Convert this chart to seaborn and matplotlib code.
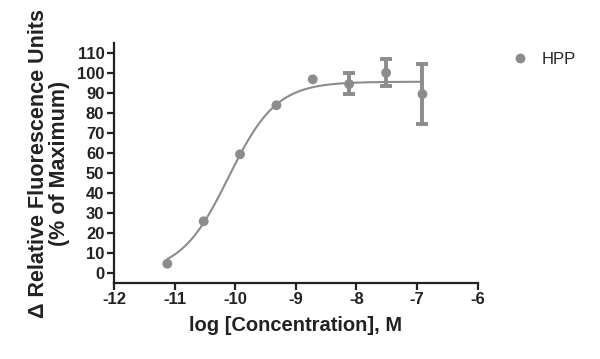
import numpy as np
import pandas as pd
import matplotlib
matplotlib.use("Agg")
import matplotlib.pyplot as plt
import seaborn as sns

# Data
log_conc = [-11.12, -10.52, -9.92, -9.32, -8.72, -8.12, -7.51, -6.91]
response = [4.5, 25.8, 59.4, 84.0, 97.0, 94.6, 100.3, 89.6]
err_low = [0, 0, 0, 0, 0, 5.2, 6.5, 15.2]
err_high = [0, 0, 0, 0, 0, 5.4, 7.0, 15.2]

# 4-parameter logistic fit parameters
fit_bottom = 0.0
fit_top = 95.8
fit_logec50 = -10.11
fit_hill = 1.1

x_ticks = [-12, -11, -10, -9, -8, -7, -6]
y_ticks = [0, 10, 20, 30, 40, 50, 60, 70, 80, 90, 100, 110]

sns.set_theme(style="ticks")
plt.rcParams['font.family'] = ['Liberation Sans', 'DejaVu Sans']

gray = "#8c8c8c"
dark = "#222222"
df = pd.DataFrame({"x": log_conc, "y": response, "series": "HPP"})

fig = plt.figure(figsize=(6.0, 3.59), dpi=100)
ax = fig.add_axes([0.19, 0.2125, 0.606, 0.6665])

xs = np.linspace(min(log_conc), max(log_conc), 300)
ys = fit_bottom + (fit_top - fit_bottom) / (1 + 10 ** ((fit_logec50 - xs) * fit_hill))
sns.lineplot(x=xs, y=ys, ax=ax, color=gray, linewidth=1.5, zorder=2)

eb = [i for i in range(len(log_conc)) if err_low[i] > 0 or err_high[i] > 0]
ax.errorbar([log_conc[i] for i in eb], [response[i] for i in eb],
            yerr=[[err_low[i] for i in eb], [err_high[i] for i in eb]], fmt="none",
            ecolor=gray, elinewidth=2.8, capsize=4.3, capthick=2.8, zorder=3)
sns.scatterplot(data=df, x="x", y="y", hue="series", palette=[gray], s=50,
                edgecolor="none", ax=ax, zorder=4)

ax.set_xlim(-12, -6)
ax.set_ylim(-5, 115)
ax.set_xticks(x_ticks)
ax.set_yticks(y_ticks)
ax.set_xticklabels([str(t) for t in x_ticks], fontsize=12, fontweight="bold")
ax.set_yticklabels([str(t) for t in y_ticks], fontsize=12, fontweight="bold")
ax.tick_params(axis="both", direction="out", length=5, width=1.6, color=dark,
               pad=2, labelcolor=dark)
for s in ["left", "bottom"]:
    ax.spines[s].set_linewidth(1.6)
    ax.spines[s].set_color(dark)
sns.despine(ax=ax)

ax.set_xlabel("log [Concentration], M", fontsize=14.5, fontweight="bold",
              color=dark, labelpad=6)
ax.set_ylabel("\u0394 Relative Fluorescence Units\n(% of Maximum)", fontsize=15.5,
              fontweight="bold", color=dark, labelpad=5, linespacing=1.0)

handles, labels = ax.get_legend_handles_labels()
ax.legend(handles=handles, labels=labels, loc="upper left",
          bbox_to_anchor=(0.8145, 0.898), bbox_transform=fig.transFigure,
          frameon=False, fontsize=12, handletextpad=0.3, markerscale=1.0)

fig.savefig("out.png", dpi=100)
